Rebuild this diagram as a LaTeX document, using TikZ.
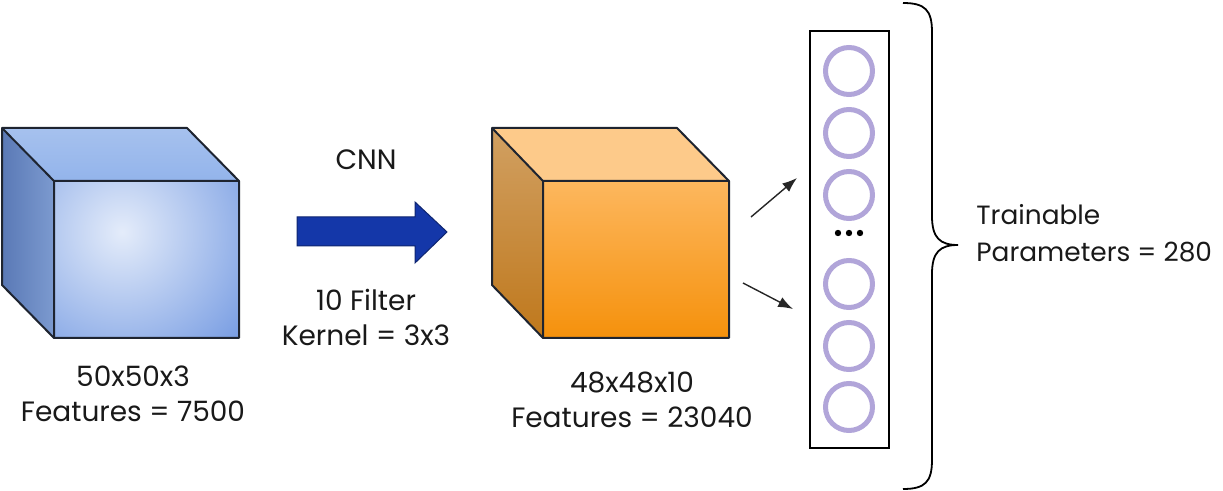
\documentclass[tikz,border=0pt]{standalone}
\usepackage{fontspec}
\setmainfont{Poppins}
\usetikzlibrary{positioning,arrows.meta,calc}
\definecolor{cubeline}{HTML}{1E2430}
\definecolor{inlight}{HTML}{E4ECFA}
\definecolor{indark}{HTML}{6C94E0}
\definecolor{intop}{HTML}{A6C1EE}
\definecolor{intopb}{HTML}{93B4EB}
\definecolor{inside}{HTML}{7C9ACF}
\definecolor{insideb}{HTML}{5A79B6}
\definecolor{outtop}{HTML}{FDB75E}
\definecolor{outbot}{HTML}{F5910C}
\definecolor{outlid}{HTML}{FDCA8A}
\definecolor{outsidet}{HTML}{D1A062}
\definecolor{outsideb}{HTML}{BF781C}
\definecolor{cnnblue}{HTML}{1437A9}
\definecolor{cnnedge}{HTML}{0E2570}
\definecolor{ring}{HTML}{B1A5D9}
\tikzset{
  lbl/.style={font=\fontsize{14}{17.5}\selectfont,align=center,text=black!90},
  face/.style={draw=cubeline,line width=1pt,line join=round},
  neuron/.style={circle,draw=ring,line width=2.5pt,minimum size=23.5pt,inner sep=0pt},
  feed/.style={-{Latex[length=2.6mm,width=1.9mm]},line width=0.7pt,black!85}
}
\begin{document}
\begin{tikzpicture}[x=0.5pt,y=-0.5pt,>=Latex]
\useasboundingbox (0,0) rectangle (1223,491);
% ---- input volume 50x50x3 ----
\shade[left color=insideb,right color=inside] (2,128) -- (54,181) -- (54,338) -- (2,285) -- cycle;
\shade[top color=intop,bottom color=intopb] (2,128) -- (187,128) -- (239,181) -- (54,181) -- cycle;
\begin{scope}
\clip (54,181) rectangle (239,338);
\shade[inner color=inlight,outer color=indark] (122,232) circle (175);
\end{scope}
\draw[face] (2,128) -- (187,128) -- (239,181) -- (239,338) -- (54,338) -- (2,285) -- cycle;
\draw[face] (2,128) -- (54,181) -- (239,181) (54,181) -- (54,338);
\node[lbl] (inlbl) at (133,394) {50x50x3\\Features = 7500};
% ---- convolution arrow ----
\fill[cnnblue,draw=cnnedge,line width=0.5pt] (297,217) -- (415,217) -- (415,202) -- (447,232) -- (415,263) -- (415,246) -- (297,246) -- cycle;
\node[lbl] (cnn) at (366,160) {CNN};
\node[lbl] (kern) at (366,317) {10 Filter\\Kernel = 3x3};
% ---- feature maps 48x48x10 ----
\shade[top color=outsidet,bottom color=outsideb] (492,128) -- (543,181) -- (543,338) -- (492,285) -- cycle;
\fill[outlid] (492,128) -- (677,128) -- (729,181) -- (543,181) -- cycle;
\shade[top color=outtop,bottom color=outbot] (543,181) rectangle (729,338);
\draw[face] (492,128) -- (677,128) -- (729,181) -- (729,338) -- (543,338) -- (492,285) -- cycle;
\draw[face] (492,128) -- (543,181) -- (729,181) (543,181) -- (543,338);
\node[lbl] (outlbl) at (632,400) {48x48x10\\Features = 23040};
% ---- flattened layer ----
\node[draw,line width=0.8pt,minimum width=39.5pt,minimum height=208.5pt,inner sep=0pt] (flat) at (849.5,239.5) {};
\foreach \yy [count=\i] in {71,133,195,284,346,407} {\node[neuron] (n\i) at (849,\yy) {};}
\foreach \xx in {838,849,860} {\fill (\xx,233) circle (1.6pt);}
\coordinate (a1) at (751,217); \coordinate (b1) at (797,178);
\coordinate (a2) at (743,283); \coordinate (b2) at (793,309);
\draw[feed] (a1) -- (b1);
\draw[feed] (a2) -- (b2);
% ---- brace + parameter count ----
\draw[line width=0.9pt] (903,3) .. controls (925,3) and (932,10) .. (932,32) -- (932,216) .. controls (932,238) and (940,245) .. (958,245) .. controls (940,245) and (932,252) .. (932,274) -- (932,460) .. controls (932,482) and (925,489) .. (903,489);
\node[lbl,anchor=west,align=left,inner sep=0pt,font=\fontsize{13.2}{18.5}\selectfont] (params) at (976,233) {Trainable\\Parameters = 280};
\end{tikzpicture}
\end{document}
